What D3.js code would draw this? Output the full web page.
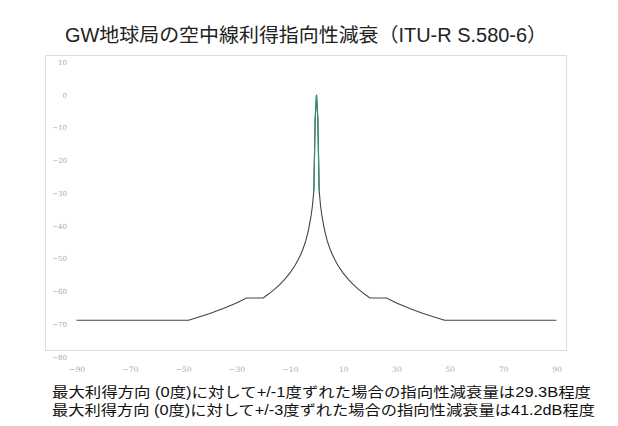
<!DOCTYPE html>
<html><head><meta charset="utf-8">
<script src="https://cdn.jsdelivr.net/npm/d3@7"></script>
<style>body{margin:0;background:#fff}svg{display:block}</style>
</head><body>
<svg id="c" width="618" height="426"></svg>
<script>
// Angle from max-gain direction (deg) and directivity attenuation (dB)
const angles = [-90,-48,-45,-40,-35,-30,-26.3,-20,-18,-16,-14,-12,-10,-8,-7,-6,-5,-4,-3,-2,-1.5,-1,-0.5,0,0.5,1,1.5,2,3,4,5,6,7,8,10,12,14,16,18,20,26.3,30,35,40,45,48,90];
const attenuation = [-68.8,-68.8,-68.0,-66.7,-65.2,-63.5,-62.0,-62.0,-60.8,-59.5,-58.1,-56.4,-54.4,-52.0,-50.5,-48.9,-46.9,-44.5,-41.2,-36.8,-33.7,-29.3,-7.3,0,-7.3,-29.3,-33.7,-36.8,-41.2,-44.5,-46.9,-48.9,-50.5,-52.0,-54.4,-56.4,-58.1,-59.5,-60.8,-62.0,-62.0,-63.5,-65.2,-66.7,-68.0,-68.8,-68.8];
const mainAngles = [-1,-0.5,0,0.5,1];
const mainAttenuation = [-29.3,-7.3,0,-7.3,-29.3];
const xTicks = [-90,-70,-50,-30,-10,10,30,50,70,90];
const yTicks = [10,0,-10,-20,-30,-40,-50,-60,-70,-80];
const title = "GW地球局の空中線利得指向性減衰（ITU-R S.580-6）";
const notes = ["最大利得方向 (0度)に対して+/-1度ずれた場合の指向性減衰量は29.3B程度",
               "最大利得方向 (0度)に対して+/-3度ずれた場合の指向性減衰量は41.2dB程度"];

const svg = d3.select("#c");
const x = d3.scaleLinear().domain([-90, 90]).range([76.5, 556.5]);
const y = d3.scaleLinear().domain([10, -80]).range([62, 357]);
const font = "'Liberation Sans', 'Noto Sans CJK JP', sans-serif";

// frame
svg.append("rect").attr("x", 45.5).attr("y", 55.5).attr("width", 521).attr("height", 295)
  .attr("fill", "none").attr("stroke", "#dddddd").attr("stroke-width", 1);

// title
svg.append("text").attr("x", 306).attr("y", 42).attr("text-anchor", "middle")
  .attr("font-family", font).attr("font-size", 19.5).attr("fill", "#222")
  .attr("textLength", 482).attr("lengthAdjust", "spacingAndGlyphs").text(title);

// y axis labels
const yAxis = d3.axisLeft(y).tickValues(yTicks).tickSize(0).tickPadding(0);
const gy = svg.append("g").attr("transform", "translate(67,0)").call(yAxis);
gy.select(".domain").remove();
gy.selectAll("text").attr("font-family", "DejaVu Serif, serif").attr("font-size", 7).attr("fill", "#aaa");

// x axis labels
const xAxis = d3.axisBottom(x).tickValues(xTicks).tickSize(0).tickPadding(0);
const gx = svg.append("g").attr("transform", "translate(0,367)").call(xAxis);
gx.select(".domain").remove();
gx.selectAll("text").attr("font-family", "DejaVu Serif, serif").attr("font-size", 7.5).attr("fill", "#aaa");

// lines
const line = d3.line().x(d => x(d[0])).y(d => y(d[1]));
svg.append("path").datum(d3.zip(angles, attenuation)).attr("d", line)
  .attr("fill", "none").attr("stroke", "#444").attr("stroke-width", 1.1);
svg.append("path").datum(d3.zip(mainAngles, mainAttenuation)).attr("d", line)
  .attr("fill", "none").attr("stroke", "#2f8f78").attr("stroke-width", 1.2);

// notes
const widths = [539, 543];
notes.forEach((t, i) => {
  svg.append("text").attr("x", 52).attr("y", 397 + i * 18)
    .attr("font-family", font).attr("font-size", 14).attr("fill", "#111")
    .attr("textLength", widths[i]).attr("lengthAdjust", "spacingAndGlyphs").text(t);
});
</script>
</body></html>
